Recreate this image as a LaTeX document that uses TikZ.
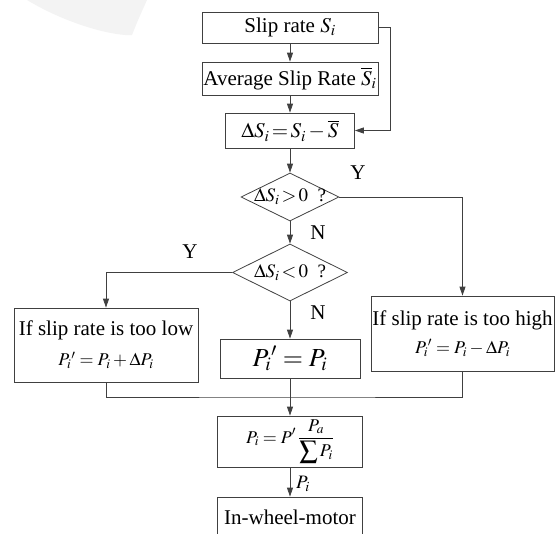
\documentclass[tikz,border=0pt]{standalone}
\usepackage{mathptmx}
\usepackage[no-math]{fontspec}
\setmainfont{Liberation Serif}
\usetikzlibrary{arrows.meta,shapes.geometric}
\definecolor{fcline}{RGB}{64,64,64}
\definecolor{fcwm}{RGB}{243,243,243}
\def\fcBig{\fontsize{21}{24}\selectfont}
\def\fcMid{\fontsize{18}{21}\selectfont}
\def\fcDec#1{\makebox[0pt]{#1}}

\begin{document}
\begin{tikzpicture}[
    x=1pt, y=-1pt,
    fcbox/.style = {draw=fcline, line width=0.8pt, inner sep=0pt, font=\fcBig},
    fcdec/.style = {draw=fcline, line width=0.8pt, diamond, inner sep=0pt, font=\fontsize{19}{22}\selectfont},
    fcarr/.style = {-{Triangle[length=9pt,width=6pt]}, fcline, line width=0.8pt},
    fcln/.style  = {fcline, line width=0.8pt},
    fcyn/.style  = {font=\fcBig, inner sep=0pt}]

  \useasboundingbox (0,0) rectangle (559,533);
  \clip (0,0) rectangle (559,533);

  % faint mark at the top left
  \fill[fcwm] (27,0) .. controls (60,20) and (100,33) .. (125,35) -- (132,35)
    .. controls (138,20) .. (147,0) -- cycle;

  %% ---- top column ---------------------------------------------------
  \node[fcbox, minimum width=176pt, minimum height=31pt] (slip) at (290,27.5) {Slip rate $S_i$};
  \node[fcbox, minimum width=176pt, minimum height=33pt] (avg)  at (290,78.5)
    {Average Slip Rate $\overline{S}_i$};
  \node[fcbox, minimum width=129pt, minimum height=35pt] (dlt)  at (290,130.5)
    {$\Delta S_i\!=\!S_i-\overline{S}$};

  %% ---- decisions ----------------------------------------------------
  \node[fcdec, minimum width=98pt,  minimum height=48pt] (pos) at (290,197)
    {\fcDec{$\Delta S_i\!>\!0$\ \ ?}};
  \node[fcdec, minimum width=115pt, minimum height=57pt] (neg) at (290,272.5)
    {\fcDec{$\Delta S_i\!<\!0$\ \ ?}};

  %% ---- actions ------------------------------------------------------
  \node[fcbox, minimum width=184pt, minimum height=74pt, align=center] (low) at (106,345)
    {If slip rate is too low\\[6pt]{\fcMid$P_i{}'=P_i+\Delta P_i$}};
  \node[fcbox, minimum width=140pt, minimum height=39pt] (keep) at (290,358.5)
    {\fontsize{26}{28}\selectfont$P_i{}'=P_i$};
  \node[fcbox, minimum width=183pt, minimum height=75pt, align=center] (high) at (462.5,333.5)
    {If slip rate is too high\\[4pt]{\fcMid$P_i{}'=P_i-\Delta P_i$}};

  %% ---- output -------------------------------------------------------
  \coordinate (mrg) at (290,397);
  \node[fcbox, minimum width=145pt, minimum height=51pt] (norm) at (290,441.5)
    {\fcMid$\displaystyle P_i=P'\,\frac{P_a}{\displaystyle\sum P_i}$};
  \node[fcbox, minimum width=145pt, minimum height=40pt] (motor) at (290,517) {In-wheel-motor};

  %% ---- connectors ---------------------------------------------------
  \draw[fcarr] (slip) -- (avg);
  \draw[fcarr] (avg) -- (dlt);
  \draw[fcarr] (slip.east) -- ++(12,0) |- (dlt.east);
  \draw[fcarr] (dlt) -- (pos);
  \draw[fcarr] (pos) -- (neg);
  \draw[fcarr] (pos.east) -| (high.north);
  \draw[fcarr] (neg.west) -| (low.north);
  \draw[fcarr] (neg) -- (keep);
  \draw[fcln]  (low.south) |- (mrg) -| (high.south);
  \draw[fcln]  (keep) -- (mrg);
  \draw[fcarr] (mrg) -- (norm);
  \draw[fcarr] (norm) -- (motor);

  %% ---- branch labels ------------------------------------------------
  \node[fcyn] (posY) at (358,173) {Y};
  \node[fcyn] (posN) at (318,233) {N};
  \node[fcyn] (negY) at (190,252) {Y};
  \node[fcyn] (negN) at (318,313) {N};
  \node[fcyn, font=\fontsize{19}{22}\selectfont] (outP) at (303,484) {$P_i$};
\end{tikzpicture}
\end{document}
